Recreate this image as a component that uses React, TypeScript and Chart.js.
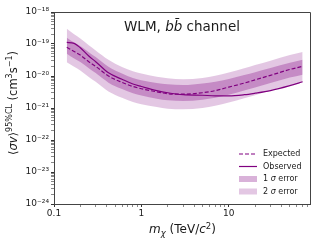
import React, { useEffect, useRef } from "react";
import { Chart, registerables } from "chart.js";

Chart.register(...registerables);

// ---- data ----
const masses = [0.14, 0.17, 0.2, 0.25, 0.3, 0.42, 0.6, 0.8, 1, 1.5, 2, 3, 5, 7, 10, 15, 20, 30, 50, 70];
const expected = [7.9e-20, 5.8e-20, 4.5e-20, 2.8e-20, 2.0e-20, 1.0e-20, 6.3e-21, 4.7e-21, 4.0e-21, 3.2e-21, 2.8e-21, 2.7e-21, 3.0e-21, 3.5e-21, 4.5e-21, 6.0e-21, 7.6e-21, 1.05e-20, 1.6e-20, 2.0e-20];
const observed = [1.12e-19, 1.05e-19, 7.6e-20, 4.2e-20, 2.8e-20, 1.26e-20, 7.9e-21, 5.6e-21, 4.7e-21, 3.5e-21, 3.0e-21, 2.6e-21, 2.5e-21, 2.4e-21, 2.4e-21, 2.6e-21, 2.9e-21, 3.5e-21, 5.0e-21, 6.6e-21];
const sigma1Upper = [1.58e-19, 1.12e-19, 8.7e-20, 5.5e-20, 3.9e-20, 1.95e-20, 1.2e-20, 8.7e-21, 7.4e-21, 6.0e-21, 5.5e-21, 5.2e-21, 5.8e-21, 6.6e-21, 8.1e-21, 1.07e-20, 1.32e-20, 1.78e-20, 2.6e-20, 3.2e-20];
const sigma1Lower = [5.0e-20, 3.5e-20, 2.75e-20, 1.74e-20, 1.23e-20, 6.2e-21, 3.9e-21, 2.9e-21, 2.45e-21, 1.95e-21, 1.74e-21, 1.66e-21, 1.82e-21, 2.1e-21, 2.6e-21, 3.5e-21, 4.4e-21, 6.0e-21, 8.9e-21, 1.1e-20];
const sigma2Upper = [3.0e-19, 2.0e-19, 1.48e-19, 9.1e-20, 6.3e-20, 3.2e-20, 1.9e-20, 1.41e-20, 1.2e-20, 9.5e-21, 8.5e-21, 7.9e-21, 8.7e-21, 1.02e-20, 1.29e-20, 1.74e-20, 2.2e-20, 3.0e-20, 4.5e-20, 5.6e-20];
const sigma2Lower = [2.7e-20, 1.95e-20, 1.48e-20, 9.3e-21, 6.6e-21, 3.3e-21, 2.1e-21, 1.55e-21, 1.32e-21, 1.07e-21, 9.5e-22, 9.1e-22, 1.0e-21, 1.17e-21, 1.48e-21, 2.0e-21, 2.5e-21, 3.5e-21, 5.1e-21, 6.3e-21];

const xMajorTicks = [0.1, 1, 10];
const xTickLabels = ["0.1", "1", "10"];
const yMajorTicks = [1e-24, 1e-23, 1e-22, 1e-21, 1e-20, 1e-19, 1e-18];
const yTickLabels = ["10⁻²⁴", "10⁻²³", "10⁻²²", "10⁻²¹", "10⁻²⁰", "10⁻¹⁹", "10⁻¹⁸"];

const X_MIN = 0.1;
const X_MAX = 85;
const Y_MIN = 1e-24;
const Y_MAX = 1e-18;

const LINE = "#800080";
const BAND1 = "rgba(128,0,128,0.30)";
const BAND2 = "rgba(128,0,128,0.22)";
const FONT = "'DejaVu Sans', sans-serif";
const TEXT = "#1a1a1a";

const pts = (ys: number[]) => masses.map((m, i) => ({ x: m, y: ys[i] }));

function logTickValues(min: number, max: number): number[] {
  const out: number[] = [];
  const e0 = Math.floor(Math.log10(min));
  const e1 = Math.ceil(Math.log10(max));
  for (let e = e0; e <= e1; e++) {
    for (let s = 1; s < 10; s++) {
      const v = s * Math.pow(10, e);
      if (v >= min * 0.9999 && v <= max * 1.0001) out.push(v);
    }
  }
  return out;
}

function findLabel(v: number, majors: number[], labels: string[]): string {
  for (let i = 0; i < majors.length; i++) {
    if (Math.abs(Math.log10(v) - Math.log10(majors[i])) < 1e-6) return labels[i];
  }
  return "";
}

function isMajorVal(v: number) {
  const l = Math.log10(v);
  return Math.abs(l - Math.round(l)) < 1e-6;
}

type Seg = { t: string; size: number; italic?: boolean; dy?: number };

function drawRich(ctx: CanvasRenderingContext2D, segs: Seg[], x: number, y: number, rot: number) {
  ctx.save();
  ctx.translate(x, y);
  ctx.rotate(rot);
  ctx.fillStyle = TEXT;
  ctx.textBaseline = "alphabetic";
  ctx.textAlign = "left";
  let total = 0;
  const widths: number[] = [];
  for (const s of segs) {
    ctx.font = `${s.italic ? "italic " : ""}${s.size}px ${FONT}`;
    const w = ctx.measureText(s.t).width;
    widths.push(w);
    total += w;
  }
  let cx = -total / 2;
  segs.forEach((s, i) => {
    ctx.font = `${s.italic ? "italic " : ""}${s.size}px ${FONT}`;
    ctx.fillText(s.t, cx, s.dy || 0);
    cx += widths[i];
  });
  ctx.restore();
}

function drawLeft(ctx: CanvasRenderingContext2D, segs: Seg[], x: number, y: number) {
  ctx.save();
  ctx.fillStyle = TEXT;
  ctx.textBaseline = "middle";
  ctx.textAlign = "left";
  let cx = x;
  for (const s of segs) {
    ctx.font = `${s.italic ? "italic " : ""}${s.size}px ${FONT}`;
    ctx.fillText(s.t, cx, y + (s.dy || 0));
    cx += ctx.measureText(s.t).width;
  }
  ctx.restore();
}

const decorPlugin = {
  id: "decor",
  afterDraw(chart: any) {
    const ctx: CanvasRenderingContext2D = chart.ctx;
    const a = chart.chartArea;
    // top & right spines
    ctx.save();
    ctx.strokeStyle = "#444";
    ctx.lineWidth = 1;
    ctx.beginPath();
    ctx.moveTo(a.left, a.top + 0.5);
    ctx.lineTo(a.right + 0.5, a.top + 0.5);
    ctx.lineTo(a.right + 0.5, a.bottom);
    ctx.stroke();
    ctx.restore();

    // title
    drawRich(
      ctx,
      [
        { t: "WLM, ", size: 13.5 },
        { t: "bb\u0304", size: 13.5, italic: true },
        { t: " channel", size: 13.5 },
      ],
      182,
      31,
      0
    );

    // x-axis title
    drawRich(
      ctx,
      [
        { t: "m", size: 12, italic: true },
        { t: "χ", size: 8.5, italic: true, dy: 2.5 },
        { t: " (TeV/", size: 12 },
        { t: "c", size: 12, italic: true },
        { t: "2", size: 8.5, dy: -4.5 },
        { t: ")", size: 12 },
      ],
      182.5,
      233,
      0
    );

    // y-axis title
    drawRich(
      ctx,
      [
        { t: "⟨", size: 11.5 },
        { t: "σv", size: 11.5, italic: true },
        { t: "⟩", size: 11.5 },
        { t: "95%CL", size: 8, dy: -4.5 },
        { t: " (cm", size: 11.5 },
        { t: "3", size: 8, dy: -4.5 },
        { t: "s", size: 11.5 },
        { t: "−1", size: 8, dy: -4.5 },
        { t: ")", size: 11.5 },
      ],
      16.5,
      103,
      -Math.PI / 2
    );

    // legend
    const hx0 = 239;
    const hx1 = 257;
    const tx = 263;
    const rows = [154, 166.5, 179, 191.5];
    ctx.save();
    ctx.strokeStyle = LINE;
    ctx.lineWidth = 1.2;
    ctx.setLineDash([4, 2]);
    ctx.beginPath();
    ctx.moveTo(hx0, rows[0]);
    ctx.lineTo(hx1, rows[0]);
    ctx.stroke();
    ctx.setLineDash([]);
    ctx.beginPath();
    ctx.moveTo(hx0, rows[1]);
    ctx.lineTo(hx1, rows[1]);
    ctx.stroke();
    ctx.fillStyle = BAND1;
    ctx.fillRect(hx0, rows[2] - 3, hx1 - hx0, 6);
    ctx.fillStyle = BAND2;
    ctx.fillRect(hx0, rows[3] - 3, hx1 - hx0, 6);
    ctx.restore();
    drawLeft(ctx, [{ t: "Expected", size: 8 }], tx, rows[0]);
    drawLeft(ctx, [{ t: "Observed", size: 8 }], tx, rows[1]);
    drawLeft(ctx, [{ t: "1 ", size: 8 }, { t: "σ", size: 8, italic: true }, { t: " error", size: 8 }], tx, rows[2]);
    drawLeft(ctx, [{ t: "2 ", size: 8 }, { t: "σ", size: 8, italic: true }, { t: " error", size: 8 }], tx, rows[3]);
  },
};

export default function App() {
  const ref = useRef<HTMLCanvasElement | null>(null);

  useEffect(() => {
    if (!ref.current) return;
    const band = (ys: number[], color: string, fill: any) => ({
      data: pts(ys),
      borderWidth: 0,
      borderColor: "rgba(0,0,0,0)",
      backgroundColor: color,
      pointRadius: 0,
      fill,
      cubicInterpolationMode: "monotone" as const,
    });
    const chart = new Chart(ref.current, {
      type: "line",
      data: {
        datasets: [
          {
            label: "Observed",
            data: pts(observed),
            borderColor: LINE,
            borderWidth: 1.2,
            pointRadius: 0,
            fill: false,
            cubicInterpolationMode: "monotone",
          },
          {
            label: "Expected",
            data: pts(expected),
            borderColor: LINE,
            borderWidth: 1.2,
            borderDash: [4, 2],
            pointRadius: 0,
            fill: false,
            cubicInterpolationMode: "monotone",
          },
          { label: "1 σ error", ...band(sigma1Upper, BAND1, "+1") },
          { label: "1σ low", ...band(sigma1Lower, "rgba(0,0,0,0)", false) },
          { label: "2 σ error", ...band(sigma2Upper, BAND2, "+1") },
          { label: "2σ low", ...band(sigma2Lower, "rgba(0,0,0,0)", false) },
        ] as any,
      },
      options: {
        responsive: false,
        animation: false,
        devicePixelRatio: 1,
        layout: { padding: { top: 12, right: 10, left: 0, bottom: 0 } },
        plugins: {
          legend: { display: false },
          tooltip: { enabled: false },
          title: { display: false },
        },
        scales: {
          x: {
            type: "logarithmic",
            min: X_MIN,
            max: X_MAX,
            afterBuildTicks: (scale: any) => {
              scale.ticks = logTickValues(X_MIN, X_MAX).map((v) => ({ value: v, major: isMajorVal(v) }));
            },
            afterFit: (scale: any) => {
              scale.height = 36;
            },
            grid: {
              display: true,
              drawOnChartArea: false,
              drawTicks: true,
              tickLength: 3,
              tickColor: (c: any) => (c.tick && isMajorVal(c.tick.value) ? "#333" : "#888"),
            },
            border: { display: true, color: "#444", width: 1 },
            ticks: {
              autoSkip: false,
              maxRotation: 0,
              padding: 1,
              color: TEXT,
              font: { family: FONT, size: 9 },
              callback: (v: any) => findLabel(Number(v), xMajorTicks, xTickLabels),
            },
          },
          y: {
            type: "logarithmic",
            min: Y_MIN,
            max: Y_MAX,
            afterBuildTicks: (scale: any) => {
              scale.ticks = logTickValues(Y_MIN, Y_MAX).map((v) => ({ value: v, major: isMajorVal(v) }));
            },
            afterFit: (scale: any) => {
              scale.width = 54;
            },
            grid: {
              display: true,
              drawOnChartArea: false,
              drawTicks: true,
              tickLength: 3,
              tickColor: (c: any) => (c.tick && isMajorVal(c.tick.value) ? "#333" : "#888"),
            },
            border: { display: true, color: "#444", width: 1 },
            ticks: {
              autoSkip: false,
              padding: 2,
              color: TEXT,
              font: { family: FONT, size: 9 },
              callback: (v: any) => findLabel(Number(v), yMajorTicks, yTickLabels),
            },
          },
        },
      },
      plugins: [decorPlugin],
    });
    return () => chart.destroy();
  }, []);

  return (
    <div style={{ position: "fixed", left: 0, top: 0, width: 320, height: 240, background: "#fff" }}>
      <canvas ref={ref} width={320} height={240} style={{ display: "block" }} />
    </div>
  );
}
